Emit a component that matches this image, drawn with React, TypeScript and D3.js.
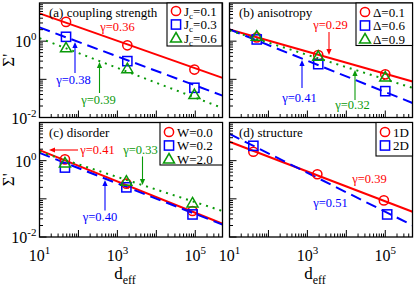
import React from 'react';
import * as d3 from 'd3';

// effective dimension of each data point
const dA = [48, 1800, 95000];
const dB = [50, 1900, 100000];
const dC = [45, 1700, 85000];
const d1D = [41, 1800, 92000];
const d2D = [41, 112000];

// Sigma' values
const sJ01 = [3.2, 0.78, 0.18];
const sJ03 = [1.3, 0.3, 0.06];
const sJ06 = [0.67, 0.19, 0.04];
const sD01 = [1.25, 0.43, 0.135];
const sD06 = [1.11, 0.25, 0.049];
const sD09 = [1.35, 0.4, 0.115];
const sW00 = [1.08, 0.25, 0.048];
const sW02 = [0.66, 0.2, 0.039];
const sW20 = [0.87, 0.29, 0.078];
const s1D = [1.71, 0.44, 0.091];
const s2D = [2.45, 0.039];

// power-law fits, value at the two ends of the axis
const fitD = [10, 5e5];
const fitJ01 = [5.35, 0.109];
const fitJ03 = [2.29, 0.0375];
const fitJ06 = [1.2, 0.0177];
const fitD01 = [2.03, 0.0881];
const fitD06 = [2.03, 0.024];
const fitD09 = [1.91, 0.0597];
const fitW00 = [1.89, 0.0223];
const fitW02 = [1.6, 0.0211];
const fitW20 = [1.71, 0.048];
const fit1D = [3.13, 0.0459];
const fit2D = [5.02, 0.0202];

const xTicksLabelled = [1, 3, 5];
const yTicksLabelled = [0, -2];

const RED = '#ff0000';
const BLUE = '#0000ff';
const GREEN = '#0a9a0a';
const FONT = "'Liberation Serif', 'Times New Roman', serif";

const PW = 183;
const PH = 114.5;

const panels = [
  {
    id: 'a', x0: 39.5, y0: 3, title: '(a) coupling strength',
    legend: { x: 127.5, w: 55, h: 43, rows: [8, 21.5, 35] },
    series: [
      { label: ['J', 'c', '=0.1'], color: RED, shape: 'circle', dash: null, xs: dA, ys: sJ01, fit: fitJ01 },
      { label: ['J', 'c', '=0.3'], color: BLUE, shape: 'square', dash: '11,6', xs: dA, ys: sJ03, fit: fitJ03 },
      { label: ['J', 'c', '=0.6'], color: GREEN, shape: 'triangle', dash: '2,5', xs: dA, ys: sJ06, fit: fitJ06 },
    ],
    notes: [
      { text: 'γ=0.36', color: RED, x: 78, y: 28 },
      { text: 'γ=0.38', color: BLUE, x: 34, y: 81, arrow: [35.5, 70, 35.5, 39] },
      { text: 'γ=0.39', color: GREEN, x: 59, y: 101, arrow: [60, 90, 60, 59] },
    ],
  },
  {
    id: 'b', x0: 229.5, y0: 3, title: '(b) anisotropy',
    legend: { x: 126.5, w: 56.5, h: 42.5, rows: [9, 22.5, 36] },
    series: [
      { label: ['Δ=0.1'], color: RED, shape: 'circle', dash: null, xs: dB, ys: sD01, fit: fitD01 },
      { label: ['Δ=0.6'], color: BLUE, shape: 'square', dash: '11,6', xs: dB, ys: sD06, fit: fitD06 },
      { label: ['Δ=0.9'], color: GREEN, shape: 'triangle', dash: '2,5', xs: dB, ys: sD09, fit: fitD09 },
    ],
    notes: [
      { text: 'γ=0.29', color: RED, x: 101, y: 26, arrow: [99.5, 29, 99.5, 52] },
      { text: 'γ=0.41', color: BLUE, x: 70, y: 99, arrow: [72.5, 85, 72.5, 57] },
      { text: 'γ=0.32', color: GREEN, x: 123, y: 106, arrow: [125.5, 97, 125.5, 67] },
    ],
  },
  {
    id: 'c', x0: 39.5, y0: 122.5, title: '(c) disorder',
    legend: { x: 120.5, w: 62.5, h: 42.5, rows: [9.5, 23, 36.5] },
    series: [
      { label: ['W=0.0'], color: RED, shape: 'circle', dash: null, xs: dC, ys: sW00, fit: fitW00 },
      { label: ['W=0.2'], color: BLUE, shape: 'square', dash: '11,6', xs: dC, ys: sW02, fit: fitW02 },
      { label: ['W=2.0'], color: GREEN, shape: 'triangle', dash: '2,5', xs: dC, ys: sW20, fit: fitW20 },
    ],
    notes: [
      { text: 'γ=0.41', color: RED, x: 58, y: 31.5, arrow: [38.5, 27.5, 9.5, 27.5] },
      { text: 'γ=0.33', color: GREEN, x: 101, y: 31.5, arrow: [103, 34, 103, 62.5] },
      { text: 'γ=0.40', color: BLUE, x: 60.5, y: 98.5, arrow: [65.5, 88, 65.5, 57.5] },
    ],
  },
  {
    id: 'd', x0: 229.5, y0: 122.5, title: '(d) structure',
    legend: { x: 146.5, w: 36.5, h: 33.5, rows: [9.5, 23] },
    series: [
      { label: ['1D'], color: RED, shape: 'circle', dash: null, xs: d1D, ys: s1D, fit: fit1D },
      { label: ['2D'], color: BLUE, shape: 'square', dash: '11,6', xs: d2D, ys: s2D, fit: fit2D },
    ],
    notes: [
      { text: 'γ=0.39', color: RED, x: 140, y: 60.5 },
      { text: 'γ=0.51', color: BLUE, x: 101, y: 84.5 },
    ],
  },
];

const Marker = ({ shape, color, x, y }) => {
  if (shape === 'circle')
    return <circle cx={x} cy={y} r={4.6} fill="none" stroke={color} strokeWidth={1.5} />;
  if (shape === 'square')
    return <rect x={x - 4.6} y={y - 4.6} width={9.2} height={9.2} fill="none" stroke={color} strokeWidth={1.5} />;
  return (
    <path d={`M${x},${y - 5.5}L${x + 5.5},${y + 4}L${x - 5.5},${y + 4}Z`} fill="none" stroke={color} strokeWidth={1.5} />
  );
};

const Arrow = ({ a, color }) => {
  const [x1, y1, x2, y2] = a;
  const ang = Math.atan2(y2 - y1, x2 - x1);
  const L = 6, W = 2.6;
  const bx = x2 - L * Math.cos(ang), by = y2 - L * Math.sin(ang);
  const px = -Math.sin(ang) * W, py = Math.cos(ang) * W;
  return (
    <g>
      <line x1={x1} y1={y1} x2={bx} y2={by} stroke={color} strokeWidth={1.1} />
      <path d={`M${x2},${y2}L${bx + px},${by + py}L${bx - px},${by - py}Z`} fill={color} />
    </g>
  );
};

const Panel = ({ p }) => {
  const x = d3.scaleLog().domain([10, 5e5]).range([0, PW]);
  const y = d3.scaleLog().domain([0.01, 10]).range([PH, 0]);
  const line = d3.line().x((d) => x(d[0])).y((d) => y(d[1]));

  const xMinor = [];
  for (let e = 1; e <= 5; e++) for (let k = 1; k <= 9; k++) {
    const v = k * Math.pow(10, e);
    if (v <= 5e5) xMinor.push({ v, major: k === 1 });
  }
  const yMinor = [];
  for (let e = -2; e <= 0; e++) for (let k = 1; k <= 9; k++) {
    yMinor.push({ v: k * Math.pow(10, e), major: k === 1 });
  }
  const left = p.x0 < 100;
  const bottom = p.y0 > 100;

  return (
    <g transform={`translate(${p.x0},${p.y0})`}>
      <clipPath id={`clip-${p.id}`}>
        <rect x={0} y={0} width={PW} height={PH} />
      </clipPath>
      <g clipPath={`url(#clip-${p.id})`}>
        {p.series.map((s, i) => (
          <path key={i} d={line(fitD.map((d, j) => [d, s.fit[j]]))} fill="none" stroke={s.color}
            strokeWidth={2} strokeDasharray={s.dash || undefined} />
        ))}
        {p.series.map((s, i) =>
          s.xs.map((d, j) => <Marker key={`${i}-${j}`} shape={s.shape} color={s.color} x={x(d)} y={y(s.ys[j])} />)
        )}
      </g>
      {xMinor.map((t, i) => (
        <line key={`xt${i}`} x1={x(t.v)} x2={x(t.v)} y1={PH} y2={PH - (t.major ? 7 : 3.5)} stroke="#000" strokeWidth={1} />
      ))}
      {yMinor.map((t, i) => (
        <line key={`yt${i}`} x1={0} x2={t.major ? 7 : 3.5} y1={y(t.v)} y2={y(t.v)} stroke="#000" strokeWidth={1} />
      ))}
      <rect x={0} y={0} width={PW} height={PH} fill="none" stroke="#000" strokeWidth={1.3} />
      {bottom && xTicksLabelled.map((e) => (
        <text key={`xl${e}`} x={x(Math.pow(10, e))} y={PH + 24} textAnchor="middle" fontSize={16} fontFamily={FONT}>
          10<tspan fontSize={11} dy={-7}>{e}</tspan>
        </text>
      ))}
      {left && yTicksLabelled.map((e) => (
        <text key={`yl${e}`} x={-3} y={y(Math.pow(10, e)) + 6} textAnchor="end" fontSize={16} fontFamily={FONT}>
          10<tspan fontSize={11} dy={-7}>{e === 0 ? '0' : '-2'}</tspan>
        </text>
      ))}
      {left && (
        <text transform={`translate(${-26},${PH / 2}) rotate(-90)`} textAnchor="middle" fontSize={17} fontFamily={FONT}>
          Σ'
        </text>
      )}
      {bottom && (
        <text x={PW / 2 - 6} y={PH + 42} textAnchor="middle" fontSize={17} fontFamily={FONT}>
          d<tspan fontSize={12} dy={5}>eff</tspan>
        </text>
      )}
      <text x={9.5} y={14} fontSize={13} fontFamily={FONT}>{p.title}</text>
      <g transform={`translate(${p.legend.x},0)`}>
        <rect x={0} y={0} width={p.legend.w} height={p.legend.h} fill="#fff" stroke="#000" strokeWidth={1.1} />
        {p.series.map((s, i) => (
          <g key={i}>
            <Marker shape={s.shape} color={s.color} x={9} y={p.legend.rows[i]} />
            <text x={17} y={p.legend.rows[i] + 4.5} fontSize={13} fontFamily={FONT}>
              {s.label.length === 3 ? (
                <>
                  {s.label[0]}
                  <tspan fontSize={9} dy={3}>{s.label[1]}</tspan>
                  <tspan dy={-3}>{s.label[2]}</tspan>
                </>
              ) : s.label[0]}
            </text>
          </g>
        ))}
      </g>
      {p.notes.map((n, i) => (
        <g key={i}>
          <text x={n.x} y={n.y} textAnchor="middle" fontSize={12.5} fontFamily={FONT} fill={n.color}>{n.text}</text>
          {n.arrow && <Arrow a={n.arrow} color={n.color} />}
        </g>
      ))}
    </g>
  );
};

export default function App() {
  return (
    <svg width={415} height={286} style={{ position: 'absolute', left: 0, top: 0, background: '#fff' }}>
      {panels.map((p) => <Panel key={p.id} p={p} />)}
    </svg>
  );
}
